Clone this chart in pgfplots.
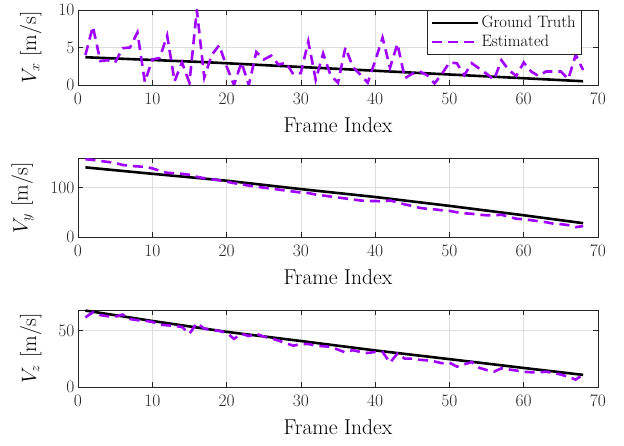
\documentclass[border=0pt]{standalone}
\usepackage{fontspec}
\usepackage{pgfplots}
\pgfplotsset{compat=1.18}
\definecolor{est}{RGB}{160,0,255}
\definecolor{axgray}{RGB}{38,38,38}
\definecolor{gridgray}{RGB}{222,222,222}
\newcommand{\vlab}[1]{$V_{#1}$ [m/s]}

\pgfplotstableread{
f v
1 4.0
2 7.8
3 3.2
4 3.3
5 3.0
6 4.9
7 5.0
8 7.0
9 0.4
10 3.4
11 3.6
12 6.6
13 0.5
14 3.0
15 0.3
16 10.0
17 1.0
18 4.0
19 5.3
20 2.5
21 0.0
22 3.0
23 0.0
24 4.4
25 3.4
26 3.9
27 2.7
28 3.0
29 1.4
30 1.6
31 5.8
32 0.7
33 4.2
34 1.3
35 0.3
36 5.0
37 2.4
38 1.4
39 0.3
40 3.2
41 6.3
42 2.3
43 5.5
44 0.9
45 1.5
46 1.8
47 1.3
48 0.2
49 1.5
50 3.0
51 2.9
52 1.3
53 2.9
54 2.2
55 1.5
56 0.7
57 3.3
58 2.0
59 1.2
60 3.0
61 1.8
62 1.2
63 1.8
64 1.8
65 1.8
66 0.8
67 4.0
68 2.0
}\vxest

\pgfplotstableread{
f v
1 157.5
2 156
3 154
4 152
5 150
6 146
7 144
8 143
9 142
10 139
11 134
12 130
13 129
14 128
15 126
16 122
17 119
18 117
19 115
20 112
21 109
22 107
23 104
24 102
25 100
26 98
27 96
28 94
29 92
30 90
31 89
32 86
33 84
34 82
35 80
36 78
37 76
38 74
39 73
40 73
41 72
42 74
43 70
44 66
45 63
46 59
47 57
48 56
49 54
50 53
51 50
52 48
53 47
54 45
55 44
56 44
57 45
58 41
59 37
60 36
61 34
62 32
63 30
64 27
65 26
66 24
67 20
68 22
}\vyest

\pgfplotstableread{
f v
1 61.5
2 66
3 63.5
4 62.5
5 62
6 64
7 60
8 59
9 58.5
10 57.5
11 55
12 54.5
13 54
14 53
15 47
16 56.5
17 51.5
18 50.5
19 49.5
20 48
21 42.5
22 47
23 45
24 47
25 44.5
26 43
27 41
28 38.5
29 36.5
30 38
31 38
32 36.5
33 36
34 35.5
35 33
36 30.5
37 32.5
38 31
39 30
40 31
41 31
42 21.5
43 29.5
44 25
45 25
46 24
47 23.5
48 22.5
49 21
50 21.5
51 18
52 20
53 22
54 17
55 15
56 13.5
57 16.5
58 15.5
59 14.5
60 13.5
61 13
62 13
63 13.5
64 12.5
65 11
66 9
67 6.5
68 11
}\vzest

\pgfplotsset{
  myax/.style={
    scale only axis, width=520pt,
    xmin=0, xmax=70, xtick={0,10,...,70},
    grid=major, major grid style={gridgray, line width=0.6pt},
    axis line style={axgray, line width=0.7pt},
    tick style={axgray, line width=0.7pt},
    major tick length=5pt, tick align=inside,
    /pgf/number format/assume math mode=true,
    ticklabel style={font=\fontsize{17.5}{20}\selectfont, text=axgray},
    xticklabel style={yshift=-4pt},
    label style={font=\fontsize{21.5}{24}\selectfont},
    xlabel={Frame Index},
    xlabel shift=6pt,
    ylabel shift=10pt,
  },
  gt/.style={black, line width=2.6pt},
  es/.style={est, line width=2.6pt, dash pattern=on 10pt off 6pt},
}

\begin{document}
\begin{tikzpicture}
\useasboundingbox (0,0) rectangle (624pt,446pt);

\begin{axis}[myax, at={(78pt,361pt)}, anchor=south west, height=75pt,
  ymin=0, ymax=10, ytick={0,5,10}, ylabel={\vlab{x}},
  legend style={at={(0.969,1)}, anchor=north east, draw=axgray, line width=0.6pt,
    font=\fontsize{16.5}{18}\selectfont, fill=white, inner xsep=4pt, inner ysep=4pt,
    row sep=2pt},
  legend cell align=left,
  legend image code/.code={\draw[#1] (0pt,0pt) -- (46pt,0pt);}]
\addplot[gt] coordinates {(1,3.7) (17,3.05) (35,2.15) (68,0.5)};
\addlegendentry{Ground Truth}
\addplot[es] table[x=f,y=v] {\vxest};
\addlegendentry{Estimated}
\end{axis}

\begin{axis}[myax, at={(78pt,209pt)}, anchor=south west, height=79pt,
  ymin=0, ymax=160, ytick={0,100}, ylabel={\vlab{y}}]
\addplot[gt] coordinates {(1,141) (10,128) (20,114) (30,97) (40,81) (50,63) (60,44) (68,28)};
\addplot[es] table[x=f,y=v] {\vyest};
\end{axis}

\begin{axis}[myax, at={(78pt,59pt)}, anchor=south west, height=77pt,
  ymin=0, ymax=68, ytick={0,50}, ylabel={\vlab{z}}]
\addplot[gt] coordinates {(1,67.5) (10,58.3) (20,48.7) (30,40.6) (40,32.3) (50,24.6) (60,16.8) (68,10.7)};
\addplot[es] table[x=f,y=v] {\vzest};
\end{axis}
\end{tikzpicture}
\end{document}
